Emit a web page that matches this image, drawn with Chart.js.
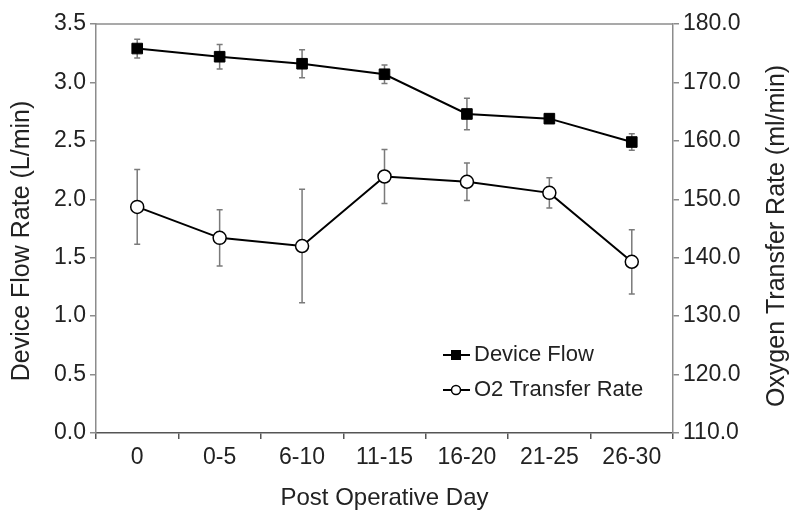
<!DOCTYPE html>
<html>
<head>
<meta charset="utf-8">
<script src="https://cdn.jsdelivr.net/npm/chart.js@4.4.1/dist/chart.umd.min.js"></script>
<style>
  html, body { margin: 0; padding: 0; background: #fff; }
  #wrap { width: 800px; height: 521px; }
</style>
</head>
<body>
<div id="wrap"><canvas id="chart" width="800" height="521"></canvas></div>
<script>
// datos
const days = ['0', '0-5', '6-10', '11-15', '16-20', '21-25', '26-30'];
const deviceFlow = [3.29, 3.22, 3.16, 3.07, 2.73, 2.69, 2.49];
const deviceFlowErr = [0.08, 0.105, 0.12, 0.08, 0.135, 0.03, 0.07];
const o2Rate = [148.7, 143.4, 142.0, 153.9, 153.0, 151.1, 139.3];
const o2RateErr = [6.4, 4.8, 9.7, 4.6, 3.2, 2.6, 5.5];

const FONT = "'Liberation Sans', Arial, sans-serif";
const AXIS_GREY = '#8c8c8c';

// barras de error (detras de los puntos)
const errorBars = {
  id: 'errorBars',
  beforeDatasetsDraw(chart) {
    const ctx = chart.ctx;
    chart.data.datasets.forEach((ds, i) => {
      const meta = chart.getDatasetMeta(i);
      const yScale = chart.scales[ds.yAxisID];
      ctx.save();
      ctx.strokeStyle = '#7a7a7a';
      ctx.lineWidth = 1.5;
      meta.data.forEach((pt, j) => {
        const top = yScale.getPixelForValue(ds.data[j] + ds.errors[j]);
        const bot = yScale.getPixelForValue(ds.data[j] - ds.errors[j]);
        ctx.beginPath();
        ctx.moveTo(pt.x, top); ctx.lineTo(pt.x, bot);
        ctx.moveTo(pt.x - 3, top); ctx.lineTo(pt.x + 3, top);
        ctx.moveTo(pt.x - 3, bot); ctx.lineTo(pt.x + 3, bot);
        ctx.stroke();
      });
      ctx.restore();
    });
  }
};

// texto vertical leido de abajo hacia arriba
function verticalText(ctx, text, x, y, size) {
  ctx.save();
  ctx.fillStyle = '#222';
  ctx.font = size + 'px ' + FONT;
  ctx.textAlign = 'center';
  ctx.textBaseline = 'middle';
  ctx.translate(x, y);
  ctx.rotate(-Math.PI / 2);
  ctx.fillText(text, 0, 0);
  ctx.restore();
}

// marco superior, titulos de ejes y leyenda dentro del area
const extras = {
  id: 'extras',
  afterDraw(chart) {
    const { ctx, chartArea } = chart;
    ctx.save();
    ctx.strokeStyle = AXIS_GREY;
    ctx.lineWidth = 1.5;
    ctx.beginPath();
    ctx.moveTo(chartArea.left, chartArea.top);
    ctx.lineTo(chartArea.right, chartArea.top);
    ctx.stroke();
    ctx.restore();

    verticalText(ctx, 'Device Flow Rate (L/min)', 22, 241, 25);
    verticalText(ctx, 'Oxygen Transfer Rate (ml/min)', 777, 236, 25);

    // leyenda
    ctx.save();
    const x0 = chartArea.right - 230;
    const rows = [chartArea.bottom - 78, chartArea.bottom - 43];
    chart.data.datasets.forEach((ds, i) => {
      const y = rows[i];
      ctx.strokeStyle = '#000';
      ctx.lineWidth = 2;
      ctx.beginPath();
      ctx.moveTo(x0, y);
      ctx.lineTo(x0 + 27, y);
      ctx.stroke();
      ctx.fillStyle = ds.pointBackgroundColor;
      ctx.strokeStyle = '#000';
      ctx.lineWidth = 1.5;
      Chart.helpers.drawPoint(ctx, {
        pointStyle: ds.pointStyle,
        radius: ds.pointStyle === 'rect' ? 6 : 4.5,
        borderWidth: 1.5,
        rotation: 0
      }, x0 + 13, y);
      ctx.fillStyle = '#222';
      ctx.font = '22px ' + FONT;
      ctx.textAlign = 'left';
      ctx.textBaseline = 'middle';
      ctx.fillText(ds.label, x0 + 31, y);
    });
    ctx.restore();
  }
};

const ctx = document.getElementById('chart').getContext('2d');

new Chart(ctx, {
  type: 'line',
  data: {
    labels: days,
    datasets: [
      {
        label: 'Device Flow',
        data: deviceFlow,
        errors: deviceFlowErr,
        yAxisID: 'y',
        borderColor: '#000',
        borderWidth: 2,
        pointStyle: 'rect',
        pointRadius: 7.5,
        pointBackgroundColor: '#000',
        pointBorderColor: '#000',
        pointBorderWidth: 1,
        tension: 0
      },
      {
        label: 'O2 Transfer Rate',
        data: o2Rate,
        errors: o2RateErr,
        yAxisID: 'y1',
        borderColor: '#000',
        borderWidth: 2,
        pointStyle: 'circle',
        pointRadius: 6.5,
        pointBackgroundColor: '#fff',
        pointBorderColor: '#000',
        pointBorderWidth: 1.5,
        tension: 0
      }
    ]
  },
  options: {
    responsive: false,
    animation: false,
    layout: { padding: { top: 24, left: 0, right: 0, bottom: 0 } },
    plugins: {
      legend: { display: false },
      tooltip: { enabled: false }
    },
    scales: {
      x: {
        offset: true,
        afterFit: s => { s.height = 88; },
        grid: { offset: true, drawOnChartArea: false, tickLength: 6, color: '#555', lineWidth: 1.5 },
        border: { display: true, color: '#555', width: 1.5 },
        ticks: { color: '#222', font: { family: FONT, size: 23 }, padding: 5, maxRotation: 0 },
        title: { display: true, text: 'Post Operative Day', color: '#222', font: { family: FONT, size: 24 }, padding: { bottom: 8 } }
      },
      y: {
        position: 'left',
        min: 0,
        max: 3.5,
        afterFit: s => { s.width = 96; },
        grid: { drawOnChartArea: false, tickLength: 6, color: AXIS_GREY, lineWidth: 1.5 },
        border: { display: true, color: AXIS_GREY, width: 1.5 },
        ticks: { stepSize: 0.5, color: '#222', font: { family: FONT, size: 23 }, padding: 4, callback: v => v.toFixed(1) }
      },
      y1: {
        position: 'right',
        min: 110,
        max: 180,
        afterFit: s => { s.width = 127; },
        grid: { drawOnChartArea: false, tickLength: 6, color: AXIS_GREY, lineWidth: 1.5 },
        border: { display: true, color: AXIS_GREY, width: 1.5 },
        ticks: { stepSize: 10, color: '#222', font: { family: FONT, size: 23 }, padding: 4, callback: v => v.toFixed(1) }
      }
    }
  },
  plugins: [errorBars, extras]
});
</script>
</body>
</html>
